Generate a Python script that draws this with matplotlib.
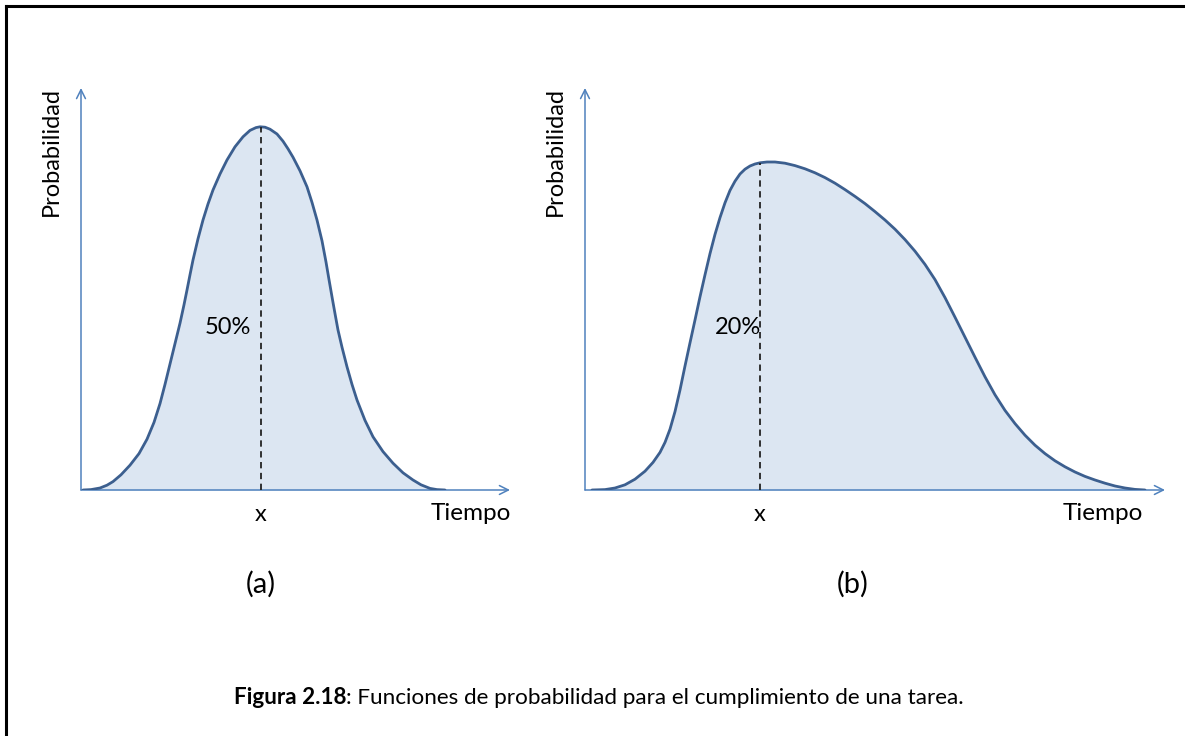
import matplotlib
matplotlib.use("Agg")
import matplotlib.pyplot as plt
from matplotlib.lines import Line2D

plt.rcParams['font.family'] = ['Lato', 'DejaVu Sans']

# panel (a): roughly symmetric completion curve
t_a = [0.2, 1.0, 1.9, 2.6, 3.2, 4.0, 4.9, 5.8, 6.6, 7.3, 7.9, 8.4, 8.9, 9.4,
       9.9, 10.3, 10.6, 10.9, 11.2, 11.7, 12.2, 12.7, 13.2, 13.9, 14.6, 15.4,
       16.2, 16.9, 17.5, 17.9, 18.4, 18.9, 19.6, 20.2, 20.7, 21.2, 21.9,
       22.6, 23.1, 23.6, 24.1, 24.5, 24.8, 25.1, 25.4, 25.7, 26.1, 26.6,
       27.1, 27.6, 28.4, 29.2, 30.2, 31.2, 32.2, 33.2, 34.0, 34.9, 35.6, 36.4]
p_a = [0, 0.1, 0.5, 1.2, 2.1, 3.8, 6.2, 9.1, 12.7, 16.9, 21.6, 26.4, 31.5,
       36.6, 41.7, 46.3, 50.0, 53.8, 57.5, 62.8, 67.5, 71.5, 75.0, 79.0, 82.5,
       85.8, 88.3, 89.9, 90.6, 90.8, 90.7, 90.2, 89.0, 87.2, 85.3, 83.2, 79.8,
       75.8, 71.9, 67.5, 62.3, 57.0, 52.6, 48.3, 44.1, 40.0, 35.7, 30.8, 26.4,
       22.5, 17.4, 13.3, 9.6, 6.7, 4.3, 2.5, 1.3, 0.4, 0.1, 0]
x_a = 18.0
pct_a = "50%"

# panel (b): skewed curve with long right tail
t_b = [0.7, 2.0, 3.0, 4.0, 5.0, 6.0, 6.8, 7.5, 8.0, 8.5, 9.0, 9.5, 10.0,
       10.5, 11.0, 11.5, 12.0, 12.5, 13.0, 13.5, 14.0, 14.5, 15.0, 15.5,
       16.0, 16.5, 17.0, 17.5, 18.2, 19.0, 20.0, 21.0, 22.0, 23.0, 24.0,
       25.0, 26.0, 27.0, 28.0, 29.0, 30.0, 31.0, 32.0, 33.0, 34.0, 35.0,
       36.0, 37.0, 38.0, 39.0, 40.0, 41.0, 42.0, 43.0, 44.0, 45.0, 46.0,
       47.0, 48.0, 49.0, 50.0, 51.0, 52.0, 53.0, 54.0, 55.0, 56.0]
p_b = [0, 0.1, 0.5, 1.3, 2.7, 4.7, 6.9, 9.4, 11.9, 15.2, 19.6, 25.0, 31.0,
       36.8, 42.5, 48.3, 53.8, 59.1, 63.9, 68.1, 71.8, 74.9, 77.2, 79.0,
       80.2, 81.0, 81.5, 81.8, 82.0, 82.0, 81.7, 81.1, 80.3, 79.3, 78.1,
       76.7, 75.1, 73.4, 71.6, 69.6, 67.5, 65.2, 62.6, 59.7, 56.4, 52.6,
       48.1, 43.2, 38.2, 33.2, 28.3, 23.8, 19.9, 16.6, 13.7, 11.2, 9.1,
       7.3, 5.8, 4.5, 3.4, 2.5, 1.7, 1.0, 0.5, 0.15, 0]
x_b = 17.5
pct_b = "20%"

LINE = '#3c5f8f'
FILL = '#dce6f2'
AXIS = '#4f81bd'

W, H = 1185, 736
fig = plt.figure(figsize=(W / 100, H / 100), dpi=100)


def px_axes(left, right, top, bottom):
    return fig.add_axes([left / W, (H - bottom) / H, (right - left) / W, (bottom - top) / H])


def panel(ax, t, p, xmark, pct, xmax, label, pct_dx, tiempo_x, label_x):
    ax.set_xlim(0, xmax)
    ax.set_ylim(0, 100.5)
    ax.axis('off')
    ax.fill_between(t, p, 0, color=FILL, lw=0, zorder=1)
    ax.plot(t, p, color=LINE, lw=2.0, zorder=3, solid_capstyle='round',
            solid_joinstyle='round')
    arrow = dict(arrowstyle='->', color=AXIS, lw=1.1, mutation_scale=16,
                 shrinkA=0, shrinkB=0)
    ax.annotate('', xy=(xmax, 0), xytext=(0, 0), arrowprops=arrow,
                annotation_clip=False, zorder=2)
    ax.annotate('', xy=(0, 100.5), xytext=(0, 0), arrowprops=arrow,
                annotation_clip=False, zorder=2)
    peak = max(p[i] for i in range(len(t)) if abs(t[i] - xmark) < 0.6)
    ax.plot([xmark, xmark], [0, peak], color='#222222', lw=1.3,
            ls=(0, (3.5, 2.5)), zorder=4)
    ax.text(xmark + pct_dx, 40.75, pct, fontsize=17, ha='center', va='center')
    ax.text(xmark, -6.2, 'x', fontsize=17, ha='center', va='center')
    ax.text(tiempo_x, -5.8, 'Tiempo', fontsize=17.5, ha='center', va='center')
    ax.text(label_x, -23.5, label, fontsize=21, ha='center', va='center')
    ax.text(-3.0, 84.5, 'Probabilidad', fontsize=17, rotation=90,
            ha='center', va='center')


ax_a = px_axes(81, 510, 88, 490)
panel(ax_a, t_a, p_a, x_a, pct_a, 42.9, '(a)', -3.3, 39.0, 18.0)

ax_b = px_axes(585, 1165, 88, 490)
panel(ax_b, t_b, p_b, x_b, pct_b, 58.0, '(b)', -2.2, 51.8, 26.8)

# caption
fig.text(346 / W, 1 - 698 / H, 'Figura 2.18', fontsize=16.2, fontweight='bold',
         ha='right', va='center')
fig.text(346 / W, 1 - 698 / H,
         ': Funciones de probabilidad para el cumplimiento de una tarea.',
         fontsize=16.2, ha='left', va='center')

# page frame (left and top edges)
fig.add_artist(Line2D([5.5 / W, 5.5 / W], [0, 1 - 5.5 / H], color='black', lw=2.2))
fig.add_artist(Line2D([5.5 / W, 1183 / W], [1 - 5.5 / H, 1 - 5.5 / H], color='black', lw=2.2))

fig.savefig('out.png', dpi=100)
